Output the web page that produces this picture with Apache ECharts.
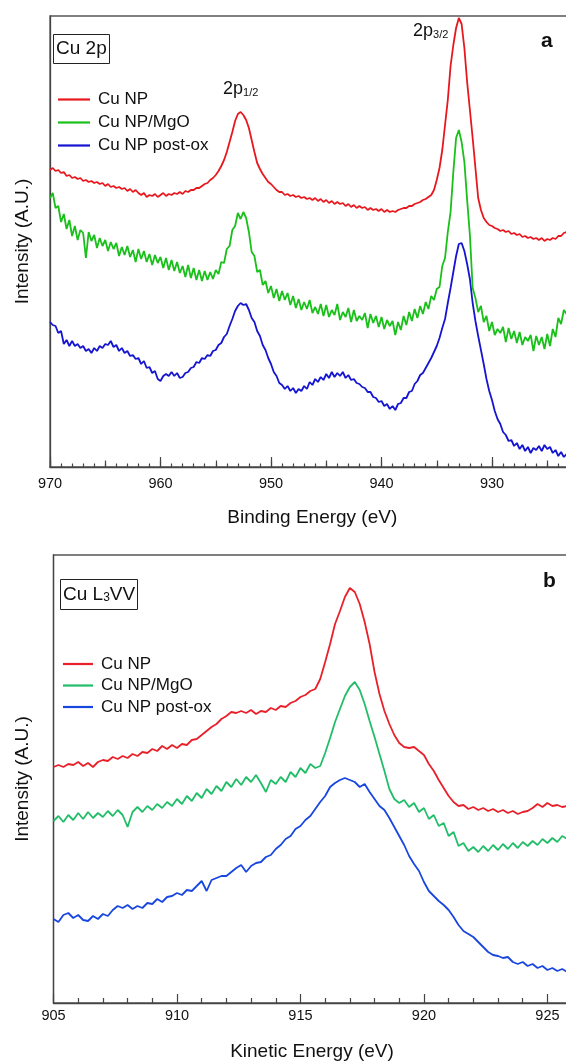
<!DOCTYPE html>
<html><head><meta charset="utf-8">
<script src="https://cdn.jsdelivr.net/npm/echarts@6/dist/echarts.min.js"></script>
<style>html,body{margin:0;padding:0;background:#fff}#c{width:566px;height:1061px}</style>
</head><body><div id="c"></div>
<script>
const FONT = '"Liberation Sans", Arial, Helvetica, sans-serif';

// ---- Panel a: Cu 2p XPS, binding energy sampled from 970 eV downward every 0.25 eV
const aStart = 970, aStep = -0.25;
const aNames = ['Cu NP', 'Cu NP/MgO', 'Cu NP post-ox'];
const aCuNP = [
297,299,296,297,294,295,291,292,289,290,
288,289,286,287,285,286,284,285,283,284,
281,283,280,281,279,280,278,279,276,278,
275,277,274,272,274,270,272,271,273,270,
272,274,271,273,272,274,273,275,273,276,
275,277,277,279,279,281,283,284,287,289,
292,296,301,307,315,325,335,346,353,355,
352,347,339,327,315,304,298,293,289,285,
283,280,277,275,275,272,273,271,272,270,
271,269,270,268,269,267,269,266,268,265,
267,264,266,263,265,263,264,261,263,260,
262,259,261,259,260,257,259,257,258,256,
258,255,257,255,256,255,257,258,259,259,
261,261,263,264,265,267,268,270,272,277,
287,299,317,342,367,401,422,439,449,443,
419,385,357,329,299,269,257,249,245,242,
241,239,238,236,237,235,236,233,234,232,
233,230,231,229,230,228,229,227,229,226,
228,227,229,228,231,231,234,235,235];
const aCuNPMgO = [
269,274,259,261,245,253,238,247,231,241,
227,237,234,209,235,226,232,219,229,221,
227,216,225,218,224,211,220,212,221,210,
217,205,218,208,216,205,213,202,212,204,
210,199,209,197,207,196,205,194,201,190,
202,189,199,187,197,186,196,187,195,188,
197,193,205,204,218,221,237,241,254,248,
255,249,235,215,211,195,197,182,186,174,
181,169,178,166,176,167,174,162,171,159,
168,157,165,158,167,154,160,153,163,151,
162,150,157,152,163,147,155,150,159,145,
157,146,151,147,154,139,153,144,151,140,
150,138,147,141,146,132,145,137,151,142,
155,146,158,149,161,153,165,158,171,167,
178,180,201,209,235,255,295,329,337,325,
305,267,232,179,169,155,161,145,151,136,
145,132,138,134,140,125,139,128,136,124,
135,122,130,126,132,116,131,122,130,118,
133,121,138,130,149,143,157,153,161];
const aCuNPpostOx = [
145,142,141,134,136,123,127,121,126,121,
123,119,121,116,118,114,119,116,121,119,
123,122,126,120,122,116,119,114,116,111,
112,108,109,103,106,99,100,94,96,88,
86,91,93,91,95,91,94,89,90,94,
95,99,100,105,104,109,108,112,111,116,
117,122,124,130,133,141,148,156,161,164,
162,163,157,149,145,136,131,122,117,109,
103,95,91,84,82,78,81,76,79,74,
78,76,81,78,85,82,88,85,90,87,
93,89,95,90,94,91,95,89,92,87,
88,84,83,80,79,75,75,70,69,65,
66,61,63,58,61,57,63,64,69,69,
75,76,83,86,92,94,99,104,109,115,
121,129,139,148,164,179,195,211,223,224,
216,203,188,164,146,131,117,103,88,76,
67,56,48,43,35,32,26,27,21,24,
18,22,16,20,14,19,17,21,16,22,
18,20,14,17,11,15,10,13,11];

// ---- Panel b: Cu L3VV Auger, kinetic energy sampled from 905 eV upward every 0.2 eV
const bStart = 905, bStep = 0.2;
const bCuNP = [
236,238,236,239,238,241,237,240,236,241,
243,242,246,244,247,245,249,247,251,250,
254,252,257,254,258,255,259,258,263,264,
268,272,276,279,284,287,291,290,292,290,
293,289,292,291,295,293,297,296,300,302,
306,308,312,314,324,341,359,379,392,406,
415,411,399,381,359,331,309,292,279,268,
260,256,255,256,252,248,239,232,223,215,
207,201,197,198,194,196,193,195,192,194,
191,193,190,192,189,191,192,195,199,196,
200,197,198,196,197,197];
const bCuNPMgO = [
182,187,181,188,183,190,184,191,185,190,
186,192,187,193,188,176,191,196,191,197,
193,199,195,201,197,204,199,207,202,210,
205,214,209,217,212,221,216,224,218,226,
221,228,220,211,223,219,226,221,231,226,
235,230,239,235,237,250,265,281,294,307,
316,321,313,299,282,266,249,232,214,204,
200,203,196,200,191,195,184,188,177,180,
167,171,157,160,152,156,151,157,152,158,
153,159,154,160,155,161,157,162,158,164,
160,165,161,167,164,167];
const bCuNPpostOx = [
84,81,88,90,85,88,83,82,87,84,
89,87,93,97,95,98,94,97,95,100,
99,104,101,106,107,110,108,113,112,117,
122,112,123,125,127,127,131,135,138,131,
137,140,141,146,148,154,158,164,167,174,
177,183,187,194,201,207,216,220,223,225,
223,221,216,219,211,204,197,193,185,176,
167,158,147,139,132,121,112,107,102,98,
93,86,78,72,69,66,61,56,51,48,
47,45,46,41,39,41,37,39,35,37,
33,35,32,34,31,32];

const colorsA = ['#e8171d', '#19c019', '#1414d2'];
const colorsB = ['#e8202a', '#22bd68', '#1846e0'];

function pts(start, step, vals) { return vals.map((v, i) => [start + step * i, v]); }

const AX = '#444';
const axisLine = { show: true, lineStyle: { color: AX, width: 1.3 } };
const tickStyle = { color: AX, width: 1.2 };

const seriesA = [aCuNP, aCuNPMgO, aCuNPpostOx].map((d, k) => ({
  name: 'a|' + aNames[k], type: 'line', xAxisIndex: 0, yAxisIndex: 0,
  data: pts(aStart, aStep, d), showSymbol: false, symbol: 'none',
  lineStyle: { color: colorsA[k], width: 1.8 }, itemStyle: { color: colorsA[k] },
  animation: false, z: 3 - k
}));
const seriesB = [bCuNP, bCuNPMgO, bCuNPpostOx].map((d, k) => ({
  name: 'b|' + aNames[k], type: 'line', xAxisIndex: 2, yAxisIndex: 1,
  data: pts(bStart, bStep, d), showSymbol: false, symbol: 'none',
  lineStyle: { color: colorsB[k], width: 1.8 }, itemStyle: { color: colorsB[k] },
  animation: false, z: 3 - k
}));

const legendCommon = {
  orient: 'vertical', icon: 'rect', itemWidth: 32, itemHeight: 2.2,
  formatter: n => n.split('|')[1], selectedMode: false,
  textStyle: { fontFamily: FONT, fontSize: 17, color: '#111', lineHeight: 17, padding: [0, 0, 0, 3] }
};

const sub = (fs) => ({ fontFamily: FONT, fontSize: fs, fontWeight: 'normal', color: '#111', lineHeight: Math.round(fs * 0.6), verticalAlign: 'bottom' });
const main = (fs) => ({ fontFamily: FONT, fontSize: fs, fontWeight: 'normal', color: '#111', lineHeight: fs, verticalAlign: 'bottom' });

const chart = echarts.init(document.getElementById('c'), null, { renderer: 'canvas', devicePixelRatio: 1 });
chart.setOption({
  animation: false,
  backgroundColor: '#fff',
  grid: [
    { left: 50, top: 16, width: 552.5, height: 451, show: true, borderColor: '#555', borderWidth: 1.3,
      containLabel: false, outerBoundsMode: 'none' },
    { left: 53.5, top: 555, width: 568, height: 448, show: true, borderColor: '#555', borderWidth: 1.3,
      containLabel: false, outerBoundsMode: 'none' }
  ],
  xAxis: [
    { type: 'value', gridIndex: 0, min: 920, max: 970, inverse: true, interval: 10, position: 'bottom',
      axisLine, axisTick: { inside: true, length: 10, lineStyle: tickStyle },
      minorTick: { show: true, splitNumber: 10, length: 3.5, lineStyle: tickStyle },
      splitLine: { show: false },
      axisLabel: { fontFamily: FONT, fontSize: 14.5, color: '#111', margin: 9 },
      name: 'Binding Energy (eV)', nameLocation: 'middle', nameGap: 41,
      nameTextStyle: { fontFamily: FONT, fontSize: 19, color: '#111', padding: [0, 28, 0, 0] } },
    { type: 'value', gridIndex: 0, min: 920, max: 970, inverse: true, interval: 5, position: 'bottom', offset: 0,
      axisLine: { show: false }, axisLabel: { show: false }, splitLine: { show: false },
      axisTick: { inside: true, length: 6.5, lineStyle: tickStyle } },
    { type: 'value', gridIndex: 1, min: 905, max: 928, interval: 5, position: 'bottom',
      axisLine, axisTick: { inside: true, length: 9, lineStyle: tickStyle },
      minorTick: { show: true, splitNumber: 5, length: 5, lineStyle: tickStyle },
      splitLine: { show: false },
      axisLabel: { fontFamily: FONT, fontSize: 14.5, color: '#111', margin: 5 },
      name: 'Kinetic Energy (eV)', nameLocation: 'middle', nameGap: 39,
      nameTextStyle: { fontFamily: FONT, fontSize: 19, color: '#111', padding: [0, 51, 0, 0] } }
  ],
  yAxis: [
    { type: 'value', gridIndex: 0, min: 0, max: 451, axisLine, axisTick: { show: false },
      axisLabel: { show: false }, splitLine: { show: false },
      name: 'Intensity (A.U.)', nameLocation: 'middle', nameGap: 18, nameRotate: 90,
      nameTextStyle: { fontFamily: FONT, fontSize: 19, color: '#111' } },
    { type: 'value', gridIndex: 1, min: 0, max: 448, axisLine, axisTick: { show: false },
      axisLabel: { show: false }, splitLine: { show: false },
      name: 'Intensity (A.U.)', nameLocation: 'middle', nameGap: 21, nameRotate: 90,
      nameTextStyle: { fontFamily: FONT, fontSize: 19, color: '#111' } }
  ],
  legend: [
    Object.assign({}, legendCommon, { left: 53, top: 86, itemGap: 6, data: aNames.map(n => 'a|' + n) }),
    Object.assign({}, legendCommon, { left: 58, top: 650.5, itemGap: 4.5, itemWidth: 30, data: aNames.map(n => 'b|' + n) })
  ],
  title: [
    { text: 'Cu 2p', left: 53, top: 34, padding: [4, 3, 4, 3], borderColor: '#222', borderWidth: 1,
      textStyle: { fontFamily: FONT, fontSize: 19, fontWeight: 'normal', color: '#111', lineHeight: 22 } },
    { text: 'a', left: 541, top: 31, padding: 0,
      textStyle: { fontFamily: FONT, fontSize: 21, fontWeight: 'bold', color: '#111' } },
    { text: '{m|2p}{s|3/2}', left: 413, top: 22.5, padding: 0,
      textStyle: { fontWeight: 'normal', rich: { m: main(18), s: sub(11) } } },
    { text: '{m|2p}{s|1/2}', left: 223, top: 80.5, padding: 0,
      textStyle: { fontWeight: 'normal', rich: { m: main(18), s: sub(11) } } },
    { text: '{m|Cu L}{s|3}{m|VV}', left: 60, top: 576, padding: [6, 3, 6, 3], borderColor: '#222', borderWidth: 1,
      textStyle: { fontWeight: 'normal', rich: { m: Object.assign(main(19), { lineHeight: 22 }), s: sub(12) } } },
    { text: 'b', left: 543, top: 571, padding: 0,
      textStyle: { fontFamily: FONT, fontSize: 21, fontWeight: 'bold', color: '#111' } }
  ],
  series: seriesA.concat(seriesB)
});
</script></body></html>
